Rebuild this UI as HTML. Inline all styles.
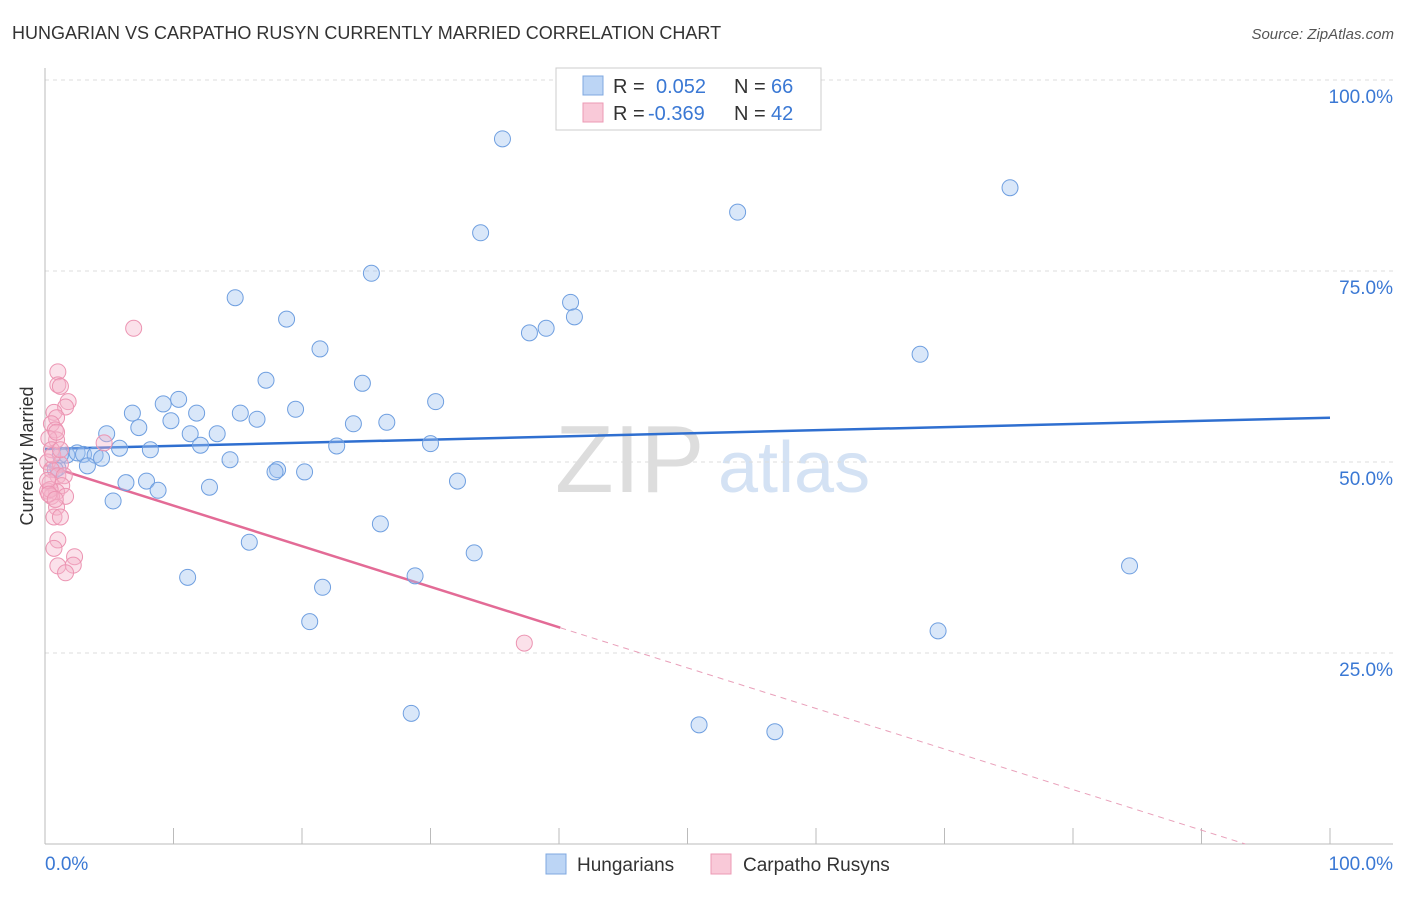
<!DOCTYPE html>
<html><head><meta charset="utf-8"><style>
body{margin:0;background:#fff;font-family:"Liberation Sans",sans-serif;}
svg text{font-family:"Liberation Sans",sans-serif;}
</style></head><body>
<svg id="chart" width="1406" height="892" xmlns="http://www.w3.org/2000/svg">
<text x="12" y="39" font-size="18" fill="#333">HUNGARIAN VS CARPATHO RUSYN CURRENTLY MARRIED CORRELATION CHART</text>
<text x="1394" y="39" font-size="15" fill="#555" text-anchor="end" font-style="italic">Source: ZipAtlas.com</text>
<text x="555" y="492" font-size="96" fill="#ddd" font-family="Liberation Serif">ZIP</text>
<text x="718" y="492" font-size="72" fill="#d4e2f4">atlas</text>
<g id="grid"></g>
<g id="axes"></g>
<g id="trend"></g>
<g id="points"></g>
<text transform="translate(33,456) rotate(-90)" font-size="18" fill="#333" text-anchor="middle">Currently Married</text>
<g>
<rect x="556" y="68" width="265" height="62" fill="#fff" stroke="#ccc"/>
<rect x="583" y="76" width="20" height="19" fill="#bcd5f5" stroke="#7fa8e0"/>
<text x="613" y="93" font-size="20" fill="#333">R = </text><text x="656" y="93" font-size="20" fill="#3a78d4">0.052</text>
<text x="734" y="93" font-size="20" fill="#333">N = </text><text x="771" y="93" font-size="20" fill="#3a78d4">66</text>
<rect x="583" y="103" width="20" height="19" fill="#f9c9d8" stroke="#ec9ab4"/>
<text x="613" y="120" font-size="20" fill="#333">R = </text><text x="648" y="120" font-size="20" fill="#3a78d4">-0.369</text>
<text x="734" y="120" font-size="20" fill="#333">N = </text><text x="771" y="120" font-size="20" fill="#3a78d4">42</text>
</g>
<g>
<rect x="546" y="854" width="20" height="20" fill="#bcd5f5" stroke="#7fa8e0"/>
<text x="577" y="871" font-size="19" fill="#333">Hungarians</text>
<rect x="711" y="854" width="20" height="20" fill="#f9c9d8" stroke="#ec9ab4"/>
<text x="743" y="871" font-size="19" fill="#333">Carpatho Rusyns</text>
</g>
</svg>
<script>
const blueX=[35.6,75.1,53.9,33.9,25.4,14.8,40.9,41.2,18.8,39.0,37.7,21.4,68.1,17.2,24.7,30.4,10.4,9.2,19.5,6.8,11.8,15.2,16.5,9.8,26.6,24.0,7.3,4.8,11.3,13.4,5.8,8.2,12.1,22.7,30.0,1.7,2.5,3.0,3.9,4.4,14.4,3.3,1.0,18.1,17.9,20.2,32.1,6.3,7.9,8.8,12.8,5.3,26.1,15.9,33.4,84.4,11.1,28.8,21.6,20.6,69.5,28.5,50.9,56.8,0.8,1.2];
const blueY=[92.3,85.9,82.7,80.0,74.7,71.5,70.9,69.0,68.7,67.5,66.9,64.8,64.1,60.7,60.3,57.9,58.2,57.6,56.9,56.4,56.4,56.4,55.6,55.4,55.2,55.0,54.5,53.7,53.7,53.7,51.8,51.6,52.2,52.1,52.4,50.9,51.2,51.0,50.9,50.5,50.3,49.5,49.2,49.0,48.7,48.7,47.5,47.3,47.5,46.3,46.7,44.9,41.9,39.5,38.1,36.4,34.9,35.1,33.6,29.1,27.9,17.1,15.6,14.7,49.0,50.9];
const pinkX=[6.9,1.0,1.0,1.2,1.8,1.6,0.7,0.9,0.5,0.8,4.6,0.9,0.3,0.5,0.2,1.2,0.5,1.0,1.5,0.4,1.3,0.2,0.9,1.6,0.5,0.9,0.7,1.2,1.0,0.7,2.3,1.0,2.2,1.6,37.3,0.4,0.2,0.6,0.9,0.3,0.8,1.2];
const pinkY=[67.5,61.8,60.1,59.9,57.9,57.2,56.5,55.8,55.0,54.2,52.5,52.9,53.1,51.6,50.0,49.7,49.0,48.2,48.2,47.3,46.9,46.2,46.1,45.5,45.5,44.1,42.8,42.8,39.8,38.7,37.6,36.4,36.5,35.5,26.3,46.4,47.6,50.9,53.9,45.8,45.1,51.6];
const yTicks=[25,50,75,100];
const yTickLabels=["25.0%","50.0%","75.0%","100.0%"];
const blueTrend=[51.7,55.8];
const pinkTrend=[49.6,-0.531];
const X=v=>45+v*12.85, Y=v=>844-v*7.64;
const NS="http://www.w3.org/2000/svg";
function mk(p,t,a){const e=document.createElementNS(NS,t);for(const k in a)e.setAttribute(k,a[k]);p.appendChild(e);return e;}
const grid=document.getElementById('grid'),axes=document.getElementById('axes'),tr=document.getElementById('trend'),pts=document.getElementById('points');
yTicks.forEach((t,i)=>{
 const l=mk(grid,'line',{x1:45,x2:1393,y1:Y(t),y2:Y(t),stroke:'#ddd','stroke-dasharray':'4,4'});
 
 
 const tx=mk(grid,'text',{x:1393,y:Y(t)+23,'font-size':19,fill:'#3a78d4','text-anchor':'end'});
 tx.textContent=yTickLabels[i];
 
 
});
mk(axes,'line',{x1:45,x2:45,y1:68,y2:844,stroke:'#bbb'});
mk(axes,'line',{x1:45,x2:1393,y1:844,y2:844,stroke:'#bbb'});
for(let i=0;i<=10;i++){const tk=mk(axes,'line',{x1:X(i*10),x2:X(i*10),y1:828,y2:844,stroke:'#bbb'});
 
 }
const x0=mk(axes,'text',{x:45,y:870,'font-size':19,fill:'#3a78d4'});x0.textContent='0.0%';


const x1=mk(axes,'text',{x:1393,y:870,'font-size':19,fill:'#3a78d4','text-anchor':'end'});x1.textContent='100.0%';


const bl=mk(tr,'line',{x1:X(0),y1:Y(blueTrend[0]),x2:X(100),y2:Y(blueTrend[1]),stroke:'#2f6fd0','stroke-width':2.5});


const pe=40.1, pz=-pinkTrend[0]/pinkTrend[1];
const pl=mk(tr,'line',{x1:X(0),y1:Y(pinkTrend[0]),x2:X(pe),y2:Y(pinkTrend[0]+pinkTrend[1]*pe),stroke:'#e36b96','stroke-width':2.5});


const pd=mk(tr,'line',{x1:X(pe),y1:Y(pinkTrend[0]+pinkTrend[1]*pe),x2:X(pz),y2:Y(0),stroke:'#e9a0ba','stroke-width':1,'stroke-dasharray':'6,5'});


blueX.forEach((x,i)=>{const c=mk(pts,'circle',{cx:X(x),cy:Y(blueY[i]),r:8,fill:'rgba(160,196,240,0.4)',stroke:'#6f9fe0','stroke-width':1});
 
 });
pinkX.forEach((x,i)=>{const c=mk(pts,'circle',{cx:X(x),cy:Y(pinkY[i]),r:8,fill:'rgba(246,180,202,0.4)',stroke:'#ec94b2','stroke-width':1});
 
 });
</script>
</body></html>
